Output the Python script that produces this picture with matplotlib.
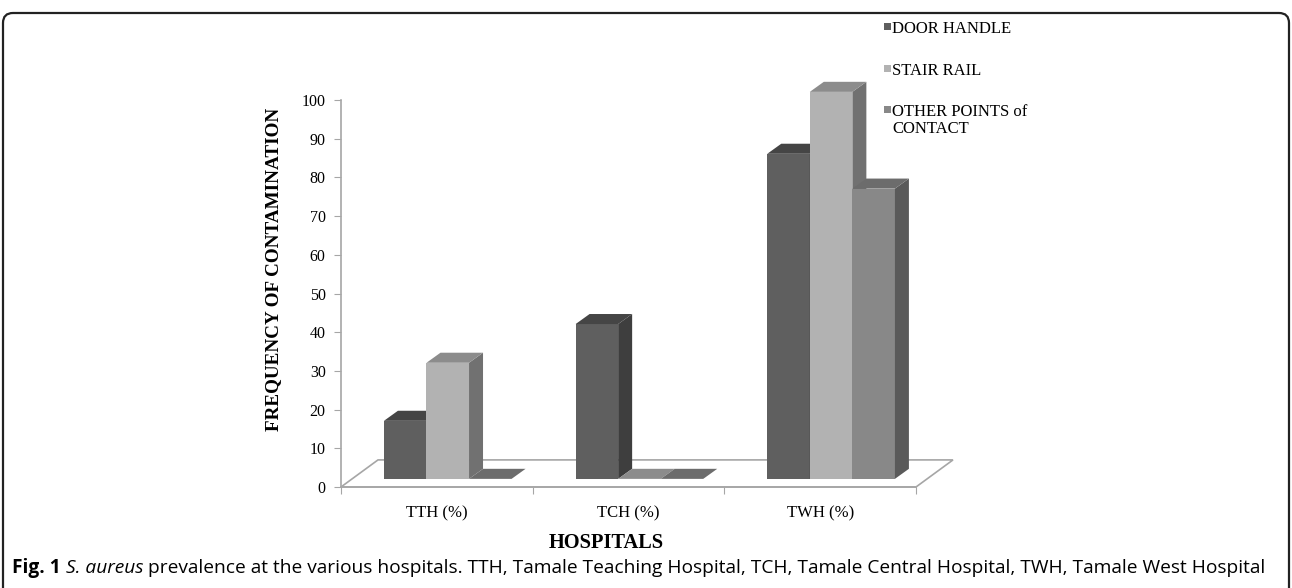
import matplotlib
matplotlib.use("Agg")
import matplotlib.pyplot as plt
from matplotlib.patches import Polygon, Rectangle, FancyBboxPatch

hospitals = ["TTH (%)", "TCH (%)", "TWH (%)"]
series = ["DOOR HANDLE", "STAIR RAIL", "OTHER POINTS of\nCONTACT"]
door_handle = [15, 40, 84]
stair_rail = [30, 0, 100]
other_points = [0, 0, 75]

front_cols = ["#5f5f5f", "#b2b2b2", "#888888"]
top_cols = ["#454545", "#8c8c8c", "#6c6c6c"]
side_cols = ["#3e3e3e", "#717171", "#5a5a5a"]
edge = "#a6a6a6"

serif = "Liberation Serif"
cap_font = ["Open Sans", "DejaVu Sans"]

fig = plt.figure(figsize=(12.92, 5.88), dpi=100)
ax = fig.add_axes([341 / 1292, 101 / 588, 575 / 1292, 387 / 588])
ax.set_xlim(-0.5, 2.5)
ax.set_ylim(0, 100)

# bar geometry (data units): width, front-plane offset, depth of the 3d look
bw = 0.222
fx, fy = 0.057, 2.1
ddx, ddy = 0.073, 2.6
floor_dx, floor_dy = 0.193, 7.0

# floor of the pseudo-3d plot
ax.add_patch(Polygon([(-0.5, 0), (2.5, 0), (2.5 + floor_dx, floor_dy), (-0.5 + floor_dx, floor_dy)],
                     closed=True, fill=False, ec=edge, lw=1.2, clip_on=False, zorder=1))

values = [door_handle, stair_rail, other_points]
z = 2
for i in range(len(hospitals)):
    for j, vals in enumerate(values):
        h = vals[i]
        x0 = i + fx - 1.5 * bw + j * bw
        if h > 0:
            ax.bar(x0, h, width=bw, bottom=fy, align="edge", color=front_cols[j],
                   lw=0, clip_on=False, zorder=z)
            ax.add_patch(Polygon([(x0 + bw, fy), (x0 + bw + ddx, fy + ddy),
                                  (x0 + bw + ddx, fy + h + ddy), (x0 + bw, fy + h)],
                                 closed=True, fc=side_cols[j], lw=0, clip_on=False, zorder=z))
        ax.add_patch(Polygon([(x0, fy + h), (x0 + bw, fy + h), (x0 + bw + ddx, fy + h + ddy),
                              (x0 + ddx, fy + h + ddy)],
                             closed=True, fc=top_cols[j], lw=0, clip_on=False, zorder=z))
        z += 1

for s in ["top", "right"]:
    ax.spines[s].set_visible(False)
for s in ["left", "bottom"]:
    ax.spines[s].set_color(edge)
    ax.spines[s].set_linewidth(1.2)

ax.set_yticks(range(0, 101, 10))
ax.tick_params(axis="y", direction="out", length=5, color=edge, labelsize=11.5, pad=6)
for t in ax.get_yticklabels():
    t.set_fontfamily(serif)
ax.set_xticks([-0.5, 0.5, 1.5, 2.5])
ax.set_xticklabels([])
ax.set_xticks([0, 1, 2], minor=True)
ax.set_xticklabels(hospitals, minor=True, fontfamily=serif, fontsize=12)
ax.tick_params(axis="x", which="major", direction="out", length=5, color=edge)
ax.tick_params(axis="x", which="minor", length=0, pad=13)

ax.set_ylabel("FREQUENCY OF CONTAMINATION", fontfamily=serif, fontweight="bold", fontsize=13.8)
ax.yaxis.set_label_coords(-0.1026, 0.563)
ax.set_xlabel("HOSPITALS", fontfamily=serif, fontweight="bold", fontsize=14.7)
ax.xaxis.set_label_coords(0.461, -0.118)

# legend, drawn by hand on the right
leg_y = [555, 513, 472]
for lab, col, yy in zip(series, front_cols, leg_y):
    fig.patches.append(Rectangle((884 / 1292, (yy + 3) / 588), 7 / 1292, 7 / 588,
                                 transform=fig.transFigure, fc=col, lw=0))
    fig.text(892 / 1292, (yy + 12) / 588, lab, ha="left", va="top", fontfamily=serif,
             fontsize=12, linespacing=1.1)

# rounded frame around the figure
fig.patches.append(FancyBboxPatch((0.13, -1.0), 12.66, 6.65, boxstyle="round,pad=0.1",
                                  transform=fig.dpi_scale_trans, fill=False, ec="#222222",
                                  lw=1.6))

# caption with mixed styles
fig.canvas.draw()
r = fig.canvas.get_renderer()
x = 12
parts = [("Fig. 1", "bold", "normal"), (" ", "normal", "normal"),
         ("S. aureus", "normal", "italic"),
         (" prevalence at the various hospitals. TTH, Tamale Teaching Hospital, TCH, "
          "Tamale Central Hospital, TWH, Tamale West Hospital", "normal", "normal")]
for txt, w, st in parts:
    t = fig.text(x / 1292, 20 / 588, txt, ha="left", va="center", fontfamily=cap_font,
                 fontweight=w, fontstyle=st, fontsize=13.8)
    x += t.get_window_extent(r).width

fig.savefig("out.png", dpi=100)
